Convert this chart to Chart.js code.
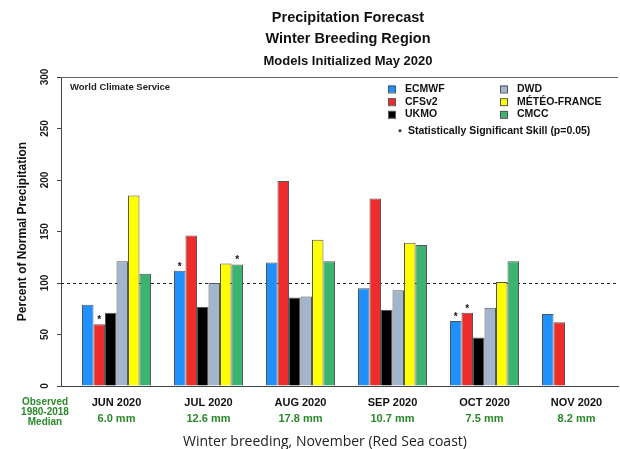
<!DOCTYPE html>
<html>
<head>
<meta charset="utf-8">
<title>Precipitation Forecast - Winter Breeding Region</title>
<script src="https://cdn.jsdelivr.net/npm/chart.js@4"></script>
<style>
  html, body { margin: 0; padding: 0; background: #fff; }
  #wrap { width: 620px; height: 449px; }
</style>
</head>
<body>
<div id="wrap"><canvas id="precipChart" width="620" height="449"></canvas></div>
<script>
// values (percent of normal precipitation)
const months = ["JUN 2020", "JUL 2020", "AUG 2020", "SEP 2020", "OCT 2020", "NOV 2020"]
const medians = ["6.0 mm", "12.6 mm", "17.8 mm", "10.7 mm", "7.5 mm", "8.2 mm"]
const models = ["ECMWF", "CFSv2", "UKMO", "DWD", "MÉTÉO-FRANCE", "CMCC"]
const modelColors = ["#1e90ff", "#ee2c2c", "#000000", "#a2b5cd", "#ffff00", "#3cb371"]

const ecmwf = [79, 112, 120, 95, 63, 70]
const cfsv2 = [60, 146, 199, 182, 71, 62]
const ukmo = [71, 77, 86, 74, 47, null]
const dwd = [121, 100, 87, 93, 76, null]
const meteoFrance = [185, 119, 142, 139, 101, null]
const cmcc = [109, 118, 121, 137, 121, null]

// [model index, month index] of bars flagged with a star
const significant = [[1, 0], [0, 1], [5, 1], [0, 4], [1, 4]]

const normalLine = 100
const yMax = 300
const yStep = 50

const GREEN = "#2a8a2a"
const BOLD = "'Liberation Sans', Arial, Helvetica, sans-serif"

function toPoints(values) {
  return values.map((v, i) => ({ x: i, y: v }))
}

const seriesValues = [ecmwf, cfsv2, ukmo, dwd, meteoFrance, cmcc]

const datasets = seriesValues.map((values, i) => ({
  label: models[i],
  data: toPoints(values),
  backgroundColor: modelColors[i],
  borderColor: "#555",
  borderWidth: 1,
  categoryPercentage: 0.75,
  barPercentage: 1.0,
  xAxisID: "x",
  yAxisID: "y",
}))

function drawText(ctx, text, x, y, font, color, align) {
  ctx.save()
  ctx.font = font
  ctx.fillStyle = color
  ctx.textAlign = align || "center"
  ctx.textBaseline = "middle"
  ctx.fillText(text, x, y)
  ctx.restore()
}

// dashed "normal" line behind the bars
const normalLinePlugin = {
  id: "normalLine",
  beforeDatasetsDraw(chart) {
    const { ctx, chartArea } = chart
    const y = Math.round(chart.scales.y.getPixelForValue(normalLine)) + 0.5
    ctx.save()
    ctx.strokeStyle = "#222"
    ctx.lineWidth = 1
    ctx.setLineDash([3, 3])
    ctx.beginPath()
    ctx.moveTo(chartArea.left, y)
    ctx.lineTo(chartArea.right, y)
    ctx.stroke()
    ctx.restore()
  },
}

// stars above the bars with significant skill
const starPlugin = {
  id: "stars",
  afterDatasetsDraw(chart) {
    const { ctx } = chart
    significant.forEach(([d, m]) => {
      const bar = chart.getDatasetMeta(d).data[m]
      if (!bar) return
      ctx.save()
      ctx.font = "bold 10px " + BOLD
      ctx.fillStyle = "#111"
      ctx.textAlign = "center"
      ctx.textBaseline = "alphabetic"
      ctx.fillText("*", bar.x, bar.y - 1)
      ctx.restore()
    })
  },
}

// titles, legend and side labels
const decorPlugin = {
  id: "decor",
  afterDraw(chart) {
    const { ctx, chartArea } = chart

    drawText(ctx, "Precipitation Forecast", 348, 18, "bold 14.5px " + BOLD, "#111")
    drawText(ctx, "Winter Breeding Region", 348, 39, "bold 14.5px " + BOLD, "#111")
    drawText(ctx, "Models Initialized May 2020", 348, 61, "bold 13px " + BOLD, "#111")

    drawText(ctx, "World Climate Service", chartArea.left + 9, 87, "bold 9.5px " + BOLD, "#222", "left")

    // two column legend
    models.forEach((name, i) => {
      const col = Math.floor(i / 3)
      const row = i % 3
      const bx = col === 0 ? 388 : 500
      const by = 89 + row * 12.7
      ctx.save()
      ctx.fillStyle = modelColors[i]
      ctx.strokeStyle = "#555"
      ctx.lineWidth = 1
      ctx.fillRect(bx, by - 3.5, 7, 7)
      ctx.strokeRect(bx + 0.5, by - 3.5 + 0.5, 7, 7)
      ctx.restore()
      drawText(ctx, name, bx + 17, by, "bold 10.5px " + BOLD, "#111", "left")
    })
    drawText(ctx, "*", 400, 133, "bold 9px " + BOLD, "#111")
    drawText(ctx, "Statistically Significant Skill (p=0.05)", 408, 131, "bold 10.5px " + BOLD, "#111", "left")

    // observed median label
    drawText(ctx, "Observed", 45, 402, "bold 10px " + BOLD, GREEN)
    drawText(ctx, "1980-2018", 45, 412, "bold 10px " + BOLD, GREEN)
    drawText(ctx, "Median", 45, 422, "bold 10px " + BOLD, GREEN)

    drawText(ctx, "Winter breeding, November (Red Sea coast)", 325, 442, "14px 'Open Sans', sans-serif", "#222")
  },
}

const xMin = -0.603
const xMax = 5.451

new Chart(document.getElementById("precipChart"), {
  type: "bar",
  data: { datasets },
  options: {
    responsive: false,
    animation: false,
    devicePixelRatio: 1,
    layout: { padding: { top: 77, right: 2, left: 0, bottom: 0 } },
    plugins: {
      legend: { display: false },
      tooltip: { enabled: false },
      title: { display: false },
    },
    scales: {
      x: {
        type: "linear",
        position: "bottom",
        weight: 0,
        min: xMin,
        max: xMax,
        offset: false,
        grid: { display: false, drawTicks: false },
        border: { display: true, color: "#444", width: 1 },
        ticks: {
          stepSize: 1,
          includeBounds: false,
          autoSkip: false,
          maxRotation: 0,
          padding: 10,
          color: "#111",
          font: { family: BOLD, size: 11, weight: "bold" },
          callback: (v) => months[v] ?? "",
        },
        afterFit: (scale) => { scale.height = 24 },
      },
      x2: {
        type: "linear",
        position: "bottom",
        weight: 1,
        min: xMin,
        max: xMax,
        offset: false,
        grid: { display: false, drawTicks: false },
        border: { display: false },
        ticks: {
          stepSize: 1,
          includeBounds: false,
          autoSkip: false,
          maxRotation: 0,
          padding: 2,
          color: GREEN,
          font: { family: BOLD, size: 11, weight: "bold" },
          callback: (v) => medians[v] ?? "",
        },
        afterFit: (scale) => { scale.height = 39 },
      },
      y: {
        min: 0,
        max: yMax,
        grid: {
          drawOnChartArea: true,
          color: (c) => (c.tick && c.tick.value === yMax ? "#666" : "rgba(0,0,0,0)"),
          tickColor: "#444",
          tickLength: 4,
          lineWidth: 1,
        },
        border: { display: true, color: "#444", width: 1 },
        ticks: {
          stepSize: yStep,
          minRotation: 90,
          maxRotation: 90,
          crossAlign: "center",
          padding: 3,
          color: "#222",
          font: { family: BOLD, size: 10, weight: "bold" },
        },
        title: {
          display: true,
          text: "Percent of Normal Precipitation",
          color: "#111",
          font: { family: BOLD, size: 12, weight: "bold" },
          padding: { top: 15, bottom: 0 },
        },
        afterFit: (scale) => { scale.width = 61 },
      },
    },
  },
  plugins: [normalLinePlugin, starPlugin, decorPlugin],
})
</script>
</body>
</html>
